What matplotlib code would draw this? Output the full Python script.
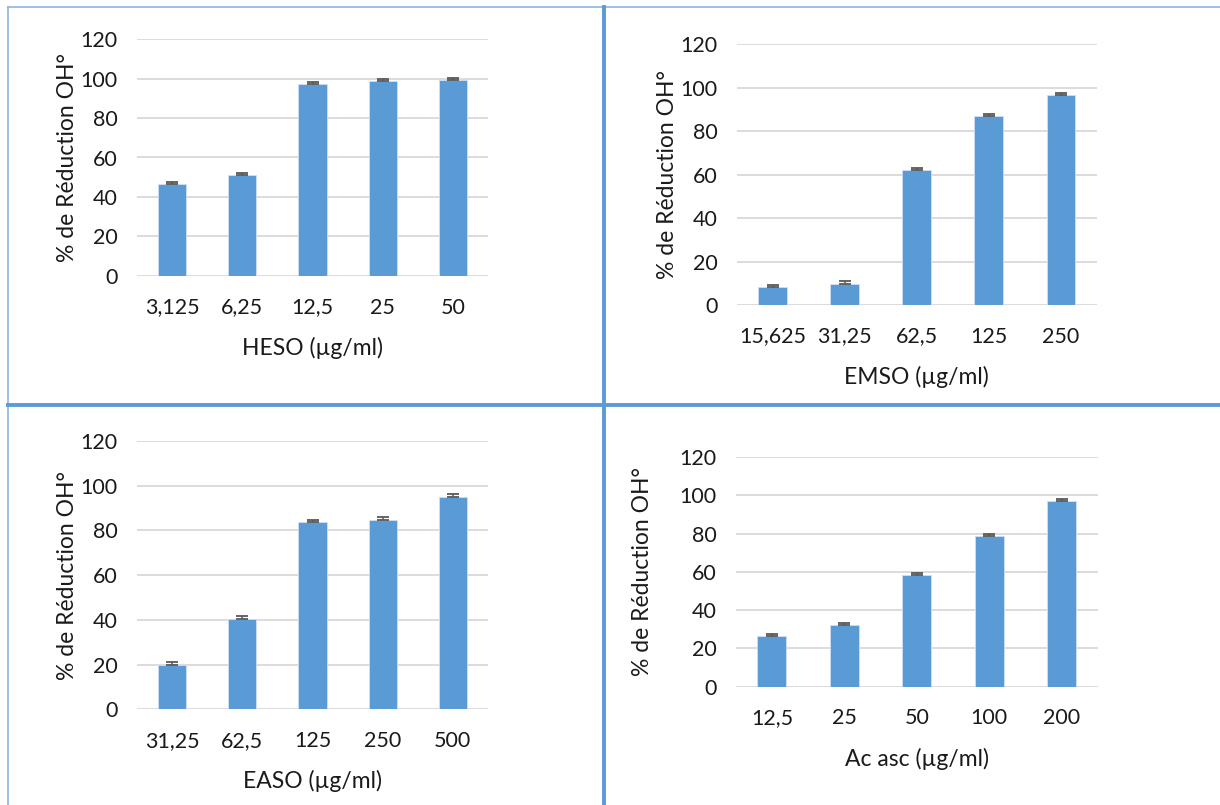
import matplotlib
matplotlib.use("Agg")
import matplotlib.pyplot as plt
from matplotlib.lines import Line2D

plt.rcParams['font.family'] = ['Lato', 'DejaVu Sans']

# Concentrations (x tick labels) for each extract
heso_conc = ["3,125", "6,25", "12,5", "25", "50"]
emso_conc = ["15,625", "31,25", "62,5", "125", "250"]
easo_conc = ["31,25", "62,5", "125", "250", "500"]
acasc_conc = ["12,5", "25", "50", "100", "200"]

# Hydroxyl radical reduction (%) and standard errors
heso_vals = [46.7, 51.1, 97.3, 98.9, 99.4]
heso_err = [1.0, 1.0, 1.1, 1.0, 1.0]
emso_vals = [8.3, 9.8, 62.0, 86.9, 96.5]
emso_err = [0.9, 1.2, 1.2, 1.0, 1.2]
easo_vals = [19.8, 40.4, 83.6, 84.8, 95.0]
easo_err = [1.2, 1.3, 1.1, 1.2, 1.2]
acasc_vals = [26.5, 32.0, 58.2, 78.5, 97.2]
acasc_err = [1.0, 1.1, 1.2, 1.1, 1.0]

xlabels = ["HESO (µg/ml)", "EMSO (µg/ml)", "EASO (µg/ml)", "Ac asc (µg/ml)"]
ylabel = "% de Réduction OH°"

W, H = 1220, 805
fig = plt.figure(figsize=(W / 100, H / 100), dpi=100)

BAR = "#5B9BD5"
GRID = "#D9D9D9"
TXT = "#1a1a1a"
FS = 15.5
LFS = 16.5

# axes rectangles in pixels: left, top, right, bottom (plot area)
panels = [
    (137, 39, 488, 276, heso_conc, heso_vals, heso_err, xlabels[0], 70),
    (736.7, 44.3, 1097, 305, emso_conc, emso_vals, emso_err, xlabels[1], 69),
    (137, 441, 488, 709.3, easo_conc, easo_vals, easo_err, xlabels[2], 70),
    (735.7, 457, 1098, 686.7, acasc_conc, acasc_vals, acasc_err, xlabels[3], 93),
]

for (l, t, r, b, cats, vals, errs, xl, ylab_off) in panels:
    ax = fig.add_axes([l / W, 1 - b / H, (r - l) / W, (b - t) / H])
    x = list(range(len(cats)))
    ax.bar(x, vals, width=0.4, color=BAR, edgecolor="#cfe0f3", linewidth=0.6, zorder=3)
    ax.errorbar(x, vals, yerr=[[0] * len(errs), errs], fmt="none",
                ecolor="#595959", elinewidth=1.1, capsize=4.2, capthick=1.3, zorder=4)
    ax.set_xlim(-0.5, len(cats) - 0.5)
    ax.set_ylim(0, 120)
    ax.set_yticks(range(0, 121, 20))
    ax.set_xticks(x)
    ax.set_xticklabels(cats)
    ax.yaxis.grid(True, color=GRID, linewidth=1.3, zorder=0)
    ax.set_axisbelow(True)
    for s in ax.spines.values():
        s.set_visible(False)
    ax.tick_params(axis="both", length=0, labelsize=FS, colors=TXT)
    ax.tick_params(axis="x", pad=15.5)
    ax.tick_params(axis="y", pad=14)
    ax.annotate(xl, xy=(0.5, 0), xycoords="axes fraction",
                xytext=(0, -72 * 0.72), textcoords="offset points",
                ha="center", va="center", fontsize=LFS, color=TXT)
    ax.annotate(ylabel, xy=(0, 0.5), xycoords="axes fraction",
                xytext=(-ylab_off * 0.72, 0), textcoords="offset points",
                ha="center", va="center", rotation=90, fontsize=LFS, color=TXT)

# panel frame lines
DIV = "#5B9BD5"
THIN = "#8DB4E2"

def hline(y, x0, x1, lw, c):
    fig.add_artist(Line2D([x0 / W, x1 / W], [1 - y / H, 1 - y / H], color=c, lw=lw,
                          transform=fig.transFigure))

def vline(x, y0, y1, lw, c):
    fig.add_artist(Line2D([x / W, x / W], [1 - y0 / H, 1 - y1 / H], color=c, lw=lw,
                          transform=fig.transFigure))

hline(7.5, 8, W, 1.2, THIN)
vline(8, 7.5, H, 1.2, THIN)
vline(604, 7.5, H, 2.8, DIV)
hline(405.5, 8, W, 2.8, DIV)

fig.savefig("out.png", dpi=100)
